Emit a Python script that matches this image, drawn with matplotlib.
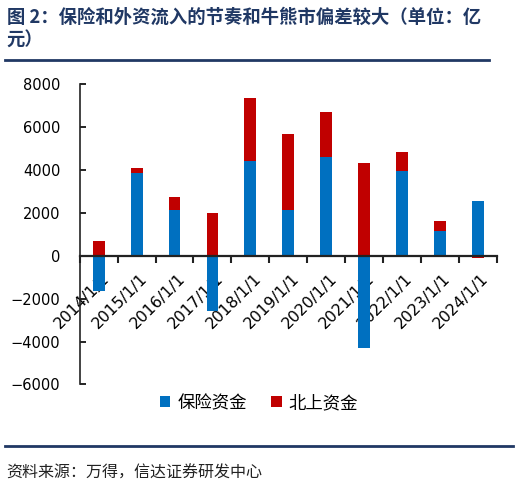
import numpy as np
import matplotlib
matplotlib.use('Agg')
from matplotlib import pyplot as plt
from matplotlib.lines import Line2D

plt.rcParams['font.family'] = ['DejaVu Sans', 'Noto Sans CJK SC']
plt.rcParams['axes.unicode_minus'] = True

# data (亿元)
years = ['2014/1/1', '2015/1/1', '2016/1/1', '2017/1/1', '2018/1/1', '2019/1/1',
         '2020/1/1', '2021/1/1', '2022/1/1', '2023/1/1', '2024/1/1']
insurance = [-1630, 3870, 2115, -2580, 4410, 2130, 4600, -4320, 3950, 1150, 2535]
northbound = [690, 200, 620, 1990, 2950, 3530, 2110, 4320, 900, 450, -90]

blue = '#0070C0'
red = '#C00000'
navy = '#203864'

fig = plt.figure(figsize=(5.18, 4.87), dpi=100)
ax = fig.add_axes([0.154, 0.2105, 0.805, 0.617])

x = np.arange(len(years))
ins = np.array(insurance)
nb = np.array(northbound)
# positive and negative parts stack separately (like excel)
bottom = np.where(np.sign(nb) == np.sign(ins), ins, 0)

ax.bar(x, ins, width=0.31, color=blue, label='保险资金', zorder=2)
ax.bar(x, nb, width=0.31, bottom=bottom, color=red, label='北上资金', zorder=2)

ax.set_xlim(-0.5, len(years) - 0.5)
ax.set_ylim(-6000, 8000)
ax.set_yticks(np.arange(-6000, 8001, 2000))
ax.tick_params(axis='y', direction='in', length=4, width=1.2, labelsize=10.5, pad=14)

for s in ['top', 'right']:
    ax.spines[s].set_visible(False)
ax.spines['bottom'].set_position(('data', 0))
ax.spines['bottom'].set_linewidth(1.6)
ax.spines['bottom'].set_color('#222222')
ax.spines['left'].set_linewidth(1.2)
ax.spines['left'].set_color('#222222')
ax.spines['bottom'].set_zorder(3)

ax.set_xticks(x + 0.08)
ax.set_xticklabels(years, rotation=45, ha='right', rotation_mode='anchor')
ax.set_xticks(np.arange(-0.5, len(years), 1.0), minor=True)
ax.tick_params(axis='x', which='major', length=0, labelsize=11.3, pad=11)
ax.tick_params(axis='x', which='minor', direction='out', length=5, width=1.5, color='#222222')
for lab in ax.get_xticklabels():
    lab.set_zorder(5)

ax.legend(loc='center', bbox_to_anchor=(0.5, 1 - 403 / 487), bbox_transform=fig.transFigure,
          ncol=2, frameon=False, handlelength=0.6, handleheight=0.6, handletextpad=0.4,
          columnspacing=1.4, prop={'family': 'Noto Sans CJK SC', 'size': 12.5})

# title and frame lines
fig.text(0.013, 0.985, '图 2：保险和外资流入的节奏和牛熊市偏差较大（单位：亿\n元）',
         fontsize=13.2, fontweight='bold', color=navy, va='top', ha='left',
         family=['Noto Sans CJK SC'], linespacing=1.3)
fig.add_artist(Line2D([0.01, 0.944], [1 - 60 / 487, 1 - 60 / 487], color=navy, lw=2))
fig.add_artist(Line2D([0.01, 0.99], [1 - 446 / 487, 1 - 446 / 487], color=navy, lw=2))
fig.text(0.013, 1 - 473 / 487, '资料来源：万得，信达证券研发中心', fontsize=11.5,
         style='italic', color='#222222', va='center', ha='left',
         family=['Noto Sans CJK SC'])

fig.savefig('out.png', dpi=100)
